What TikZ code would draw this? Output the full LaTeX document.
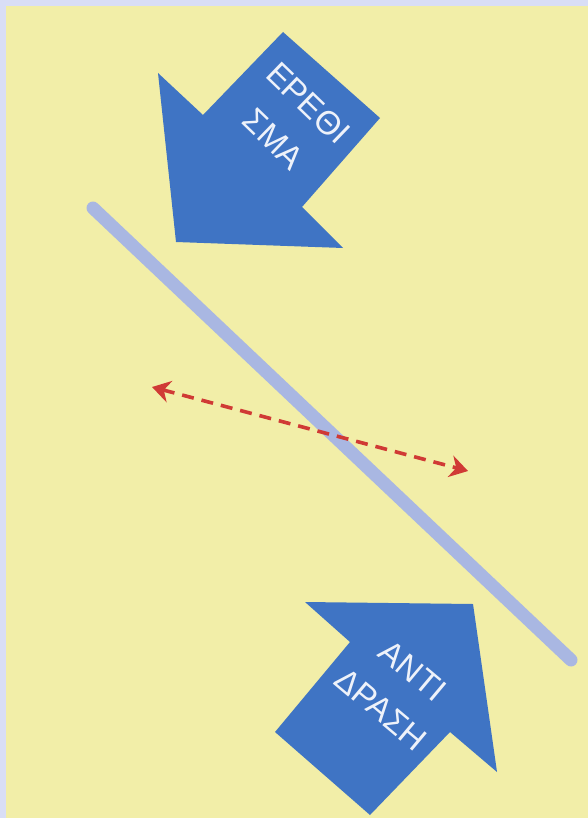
\documentclass[tikz,border=0pt]{standalone}
\usepackage{fontspec}
\setmainfont{Liberation Sans}
\usetikzlibrary{arrows.meta}
\definecolor{bgyellow}{HTML}{F2EEA8}
\definecolor{bgframe}{HTML}{D9DEF6}
\definecolor{arrowblue}{HTML}{3F74C4}
\definecolor{barblue}{HTML}{A9B7E2}
\definecolor{dashred}{HTML}{D03A35}
\definecolor{labelwhite}{HTML}{EEF2FA}
\tikzset{
  bigarrow/.style={fill=arrowblue, draw=none},
  arrowlabel/.style={text=labelwhite, font=\fontsize{33}{50}\selectfont, align=center, inner sep=0pt, anchor=center},
  bar/.style={draw=barblue, line width=13pt, line cap=round},
  swing/.style={draw=dashred, line width=3.6pt, dash pattern=on 12pt off 8pt,
    {Stealth[length=18pt,width=22pt]}-{Stealth[length=18pt,width=22pt]}}
}
\begin{document}
\begin{tikzpicture}[x=1pt,y=-1pt]
\useasboundingbox (0,0) rectangle (588,818);
\fill[bgframe] (0,0) rectangle (588,818);
\fill[bgyellow] (6,6) rectangle (588,818);
% inclined bar
\coordinate (barA) at (93,208);
\coordinate (barB) at (571,660);
\draw[bar] (barA) -- (barB);
% stimulus arrow
\fill[bigarrow] (283,32) -- (380,118) -- (302,207) -- (343,248) -- (176,242) -- (158,73) -- (203,115) -- cycle;
\node[arrowlabel, rotate=-44] (stim) at (291,121) {ΕΡΕΘΙ\\ΣΜΑ};
% reaction arrow
\fill[bigarrow] (305,602) -- (473,604) -- (497,772) -- (450,732) -- (370,815) -- (275,732) -- (350,642) -- cycle;
\node[arrowlabel, rotate=-40] (resp) at (397,690) {ΑΝΤΙ\\ΔΡΑΣΗ};
% dashed double arrow
\coordinate (swL) at (152,387);
\coordinate (swR) at (468,471);
\draw[swing] (swL) -- (swR);
\end{tikzpicture}
\end{document}
